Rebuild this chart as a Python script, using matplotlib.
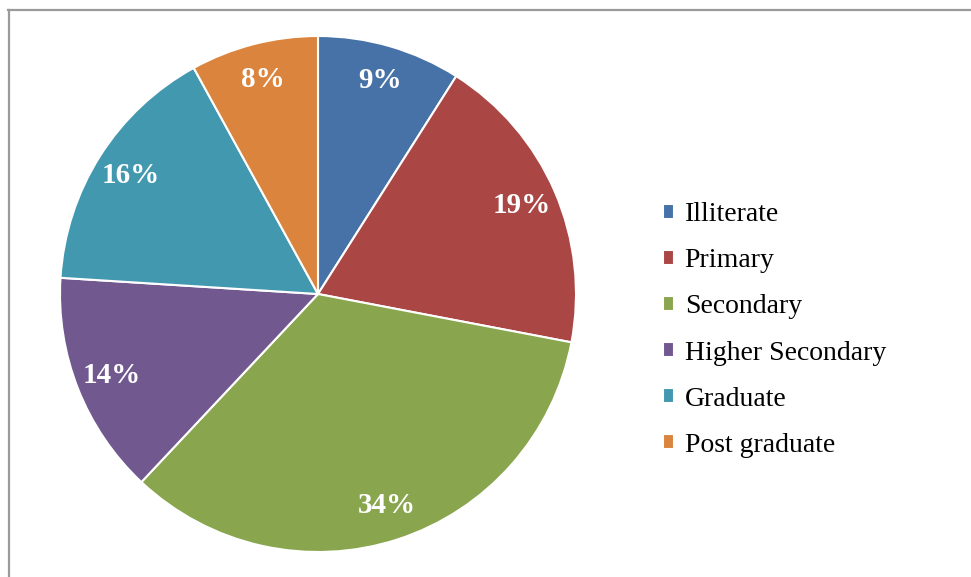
import matplotlib.pyplot as plt
from matplotlib.lines import Line2D

categories = ['Illiterate', 'Primary', 'Secondary', 'Higher Secondary', 'Graduate', 'Post graduate']
values = [9, 19, 34, 14, 16, 8]
colors = ['#4672A8', '#AA4644', '#89A54E', '#71588F', '#4298AF', '#DB843D']

plt.rcParams['font.family'] = ['Liberation Serif', 'DejaVu Serif']

W, H = 971, 577
fig = plt.figure(figsize=(W / 100, H / 100), dpi=100)

# frame (top and left edges only, as in the screenshot)
fig.add_artist(Line2D([8 / W, 1], [1 - 10 / H, 1 - 10 / H], color='#9a9a9a', lw=1.6))
fig.add_artist(Line2D([9 / W, 9 / W], [0, 1 - 10 / H], color='#9a9a9a', lw=1.6))

cx, cy, r = 318, 294, 258
ax = fig.add_axes([(cx - r) / W, (H - cy - r) / H, 2 * r / W, 2 * r / H])
wedges, _, autotexts = ax.pie(values, colors=colors, startangle=90, counterclock=False,
                              autopct='%d%%', pctdistance=0.86, radius=1,
                              wedgeprops=dict(edgecolor='white', linewidth=1.5))
for t in autotexts:
    t.set_color('white')
    t.set_fontsize(21)
    t.set_fontweight('bold')
ax.set_xlim(-1, 1)
ax.set_ylim(-1, 1)
ax.set_aspect('equal')

fig.legend(wedges, categories, loc='center left', bbox_to_anchor=(663 / W, 1 - 330 / H),
           frameon=False, fontsize=20, handlelength=0.38, handleheight=0.45,
           handletextpad=0.4, labelspacing=0.76, borderaxespad=0, borderpad=0)

fig.savefig('out.png', dpi=100)
